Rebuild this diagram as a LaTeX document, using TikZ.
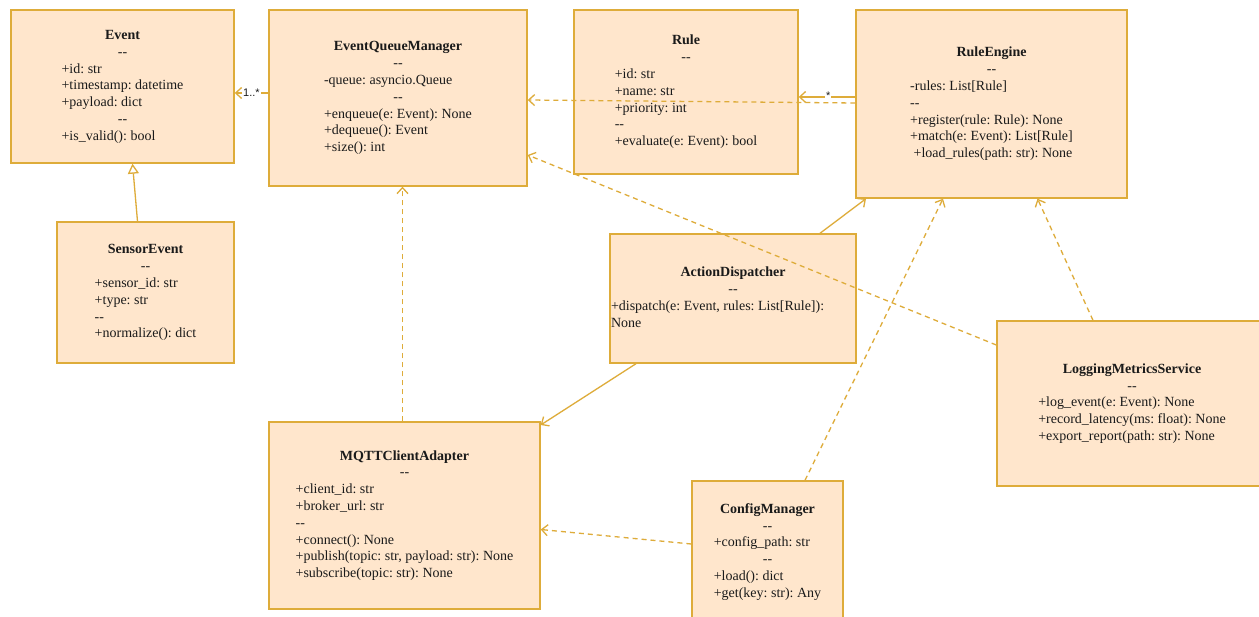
\documentclass[tikz,border=0pt]{standalone}
\usepackage{fontspec}
\setmainfont{Liberation Serif}
\setsansfont{Liberation Sans}
\usetikzlibrary{arrows.meta,calc}
\frenchspacing

\definecolor{umlfill}{HTML}{FFE6CC}
\definecolor{umlline}{RGB}{222,172,58}
\definecolor{umltext}{HTML}{1A1A1A}

% a pair of hyphens that must not turn into an en dash
\newcommand{\sep}{-{}-}
% a centred row inside a class box
\newcommand{\crow}[1]{\multicolumn{1}{@{}c@{}}{#1}}

\tikzset{
  cls/.style={draw=umlline, fill=umlfill, line width=1.4pt, inner sep=0pt,
    font=\fontsize{14}{16.8}\selectfont, text=umltext},
  assoc/.style={draw=umlline, line width=1.3pt,
    -{Straight Barb[length=6pt,width=11pt]}},
  dep/.style={assoc, dash pattern=on 5pt off 4pt},
  inherit/.style={draw=umlline, line width=1.3pt,
    -{Triangle[open,length=10pt,width=11pt,fill=white]}},
  mult/.style={fill=white, inner sep=1pt,
    font=\sffamily\fontsize{11}{13}\selectfont, text=umltext}
}

\begin{document}
\begin{tikzpicture}[x=1pt,y=-1pt]
\clip (0,0) rectangle (1259,617);
\fill[white] (0,0) rectangle (1259,617);

% ---------- classes ----------
\node[cls, minimum width=223pt, minimum height=153pt] (ev) at (122.5,86.5) {%
\begin{tabular}{@{}l@{}}
\crow{\textbf{Event}}\\
\crow{\sep}\\
+id: str\\
+timestamp: datetime\\
+payload: dict\\
\crow{\sep}\\
+is\_valid(): bool
\end{tabular}};

\node[cls, minimum width=258pt, minimum height=176pt] (eqm) at (398,98) {%
\begin{tabular}{@{}l@{}}
\crow{\textbf{EventQueueManager}}\\
\crow{\sep}\\
-queue: asyncio.Queue\\
\crow{\sep}\\
+enqueue(e: Event): None\\
+dequeue(): Event\\
+size(): int
\end{tabular}};

\node[cls, minimum width=224pt, minimum height=164pt] (rule) at (686,92) {%
\begin{tabular}{@{}l@{}}
\crow{\textbf{Rule}}\\
\crow{\sep}\\
+id: str\\
+name: str\\
+priority: int\\
\sep\\
+evaluate(e: Event): bool
\end{tabular}};

\node[cls, minimum width=271pt, minimum height=188pt] (re) at (991.5,104) {%
\begin{tabular}{@{}l@{}}
\crow{\textbf{RuleEngine}}\\
\crow{\sep}\\
-rules: List[Rule]\\
\sep\\
+register(rule: Rule): None\\
+match(e: Event): List[Rule]\\
\hspace{3.5pt}+load\_rules(path: str): None
\end{tabular}};

\node[cls, minimum width=177pt, minimum height=141pt] (se) at (145.5,292.5) {%
\begin{tabular}{@{}l@{}}
\crow{\textbf{SensorEvent}}\\
\crow{\sep}\\
+sensor\_id: str\\
+type: str\\
\sep\\
+normalize(): dict
\end{tabular}};

\node[cls, minimum width=246pt, minimum height=129pt] (ad) at (733,298.5) {%
\begin{tabular}{@{}p{244pt}@{}}
\crow{\textbf{ActionDispatcher}}\\
\crow{\sep}\\
+dispatch(e: Event, rules: List[Rule]):\\
None
\end{tabular}};

\node[cls, minimum width=271pt, minimum height=187pt] (mq) at (404.5,515.5) {%
\begin{tabular}{@{}l@{}}
\crow{\textbf{MQTTClientAdapter}}\\
\crow{\sep}\\
+client\_id: str\\
+broker\_url: str\\
\sep\\
+connect(): None\\
+publish(topic: str, payload: str): None\\
+subscribe(topic: str): None
\end{tabular}};

\node[cls, minimum width=151pt, minimum height=142pt] (cm) at (767.5,552) {%
\begin{tabular}{@{}l@{}}
\crow{\textbf{ConfigManager}}\\
\crow{\sep}\\
+config\_path: str\\
\crow{\sep}\\
+load(): dict\\
+get(key: str): Any
\end{tabular}};

\node[cls, minimum width=270pt, minimum height=165pt] (lms) at (1132,403.5) {%
\begin{tabular}{@{}l@{}}
\crow{\textbf{LoggingMetricsService}}\\
\crow{\sep}\\
+log\_event(e: Event): None\\
+record\_latency(ms: float): None\\
+export\_report(path: str): None
\end{tabular}};

% ---------- relations ----------
\draw[assoc] ($(eqm.west)+(0,-5)$) -- node[mult, pos=0.5] {1..*} ($(ev.east)+(0,6.5)$);
\draw[inherit] ($(se.north)+(-8,0)$) -- ($(ev.south)+(10,0)$);
\draw[assoc] ($(re.west)+(0,-7)$) -- node[mult, pos=0.48, yshift=1pt] {*} ($(rule.east)+(0,5)$);
\draw[dep] ($(re.west)+(0,-1)$) -- ($(eqm.east)+(0,2)$);
\draw[dep] ($(lms.west)+(0,-58.5)$) -- ($(eqm.east)+(0,57)$);
\draw[assoc] ($(ad.north)+(87,0)$) -- ($(re.south)+(-125.5,0)$);
\draw[assoc] ($(ad.south)+(-97,0)$) -- ($(mq.east)+(0,-90.5)$);
\draw[dep] ($(mq.north)+(-2,0)$) -- ($(eqm.south)+(4.5,0)$);
\draw[dep] ($(cm.north)+(37.5,0)$) -- ($(re.south)+(-48.5,0)$);
\draw[dep] ($(cm.west)+(0,-8)$) -- ($(mq.east)+(0,14)$);
\draw[dep] ($(lms.north)+(-39,0)$) -- ($(re.south)+(46,0)$);
\end{tikzpicture}
\end{document}
